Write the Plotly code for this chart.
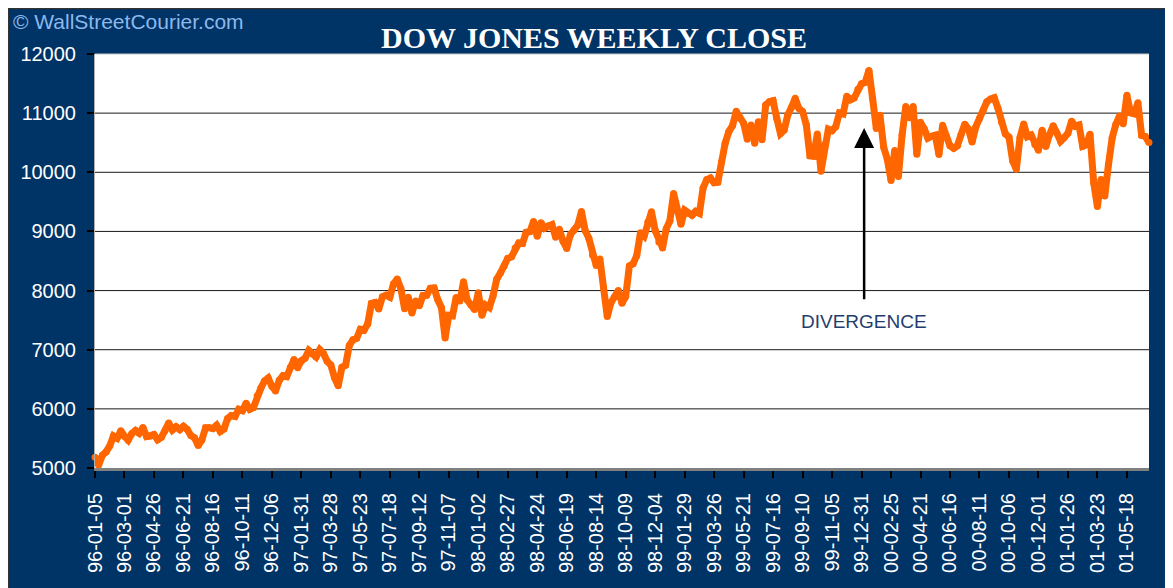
import pandas as pd
import plotly.graph_objects as go

# ---- data -------------------------------------------------------------
start_date = "1996-01-05"
closes_1996 = [5181, 5050, 5216, 5272, 5373, 5541, 5503, 5630, 5536, 5470,
               5584, 5636, 5588, 5683, 5532, 5535, 5567, 5478, 5518, 5636,
               5762, 5643, 5697, 5649, 5705, 5655, 5550, 5510, 5380, 5473,
               5679, 5681, 5666, 5723, 5616, 5659, 5838, 5888, 5872, 5993,
               5970, 6095, 5993, 6022, 6220, 6348, 6472, 6522, 6381, 6304,
               6485, 6560]
closes_1997 = [6545, 6704, 6834, 6697, 6813, 6856, 6988, 6931, 6878, 7000,
               6936, 6804, 6740, 6527, 6391, 6703, 6738, 7071, 7169, 7194,
               7345, 7331, 7436, 7782, 7797, 7688, 7896, 7922, 7890, 8114,
               8194, 8032, 7694, 7888, 7622, 7823, 7742, 7917, 7922, 8039,
               8045, 7847, 7715, 7200, 7581, 7573, 7882, 7823, 8149, 7839,
               7756, 7680]
closes_1998 = [7965, 7581, 7753, 7713, 7907, 8190, 8295, 8413, 8546, 8570,
               8719, 8804, 8797, 8984, 8995, 9168, 8918, 9148, 9055, 9096,
               9114, 8900, 9038, 8835, 8712, 8945, 9025, 9106, 9338, 9017,
               8884, 8599, 8425, 8534, 8052, 7560, 7795, 7896, 8002, 7785,
               7900, 8416, 8452, 8592, 8976, 8920, 9160, 9333, 9016, 8822,
               8720, 9044, 9181]
closes_1999 = [9643, 9340, 9120, 9358, 9304, 9274, 9340, 9307, 9736, 9876,
               9903, 9822, 9832, 10173, 10493, 10689, 10789, 11031, 10913, 10829,
               10560, 10800, 10490, 10855, 10552, 11139, 11193, 11209, 10911, 10655,
               10714, 10974, 11100, 11250, 11079, 11029, 10803, 10279, 10273, 10649,
               10019, 10470, 10729, 10704, 10770, 11004, 10988, 11286, 11225, 11257,
               11405, 11497]
closes_2000 = [11522, 11723, 11251, 10739, 10964, 10425, 10219, 9862, 10367, 9929,
               10630, 11113, 10922, 11111, 10306, 10844, 10734, 10578, 10610, 10627,
               10300, 10794, 10615, 10449, 10405, 10448, 10636, 10812, 10733, 10512,
               10767, 10908, 11046, 11193, 11238, 11260, 11087, 10847, 10651, 10596,
               10193, 10050, 10590, 10817, 10602, 10630, 10470, 10373, 10712, 10434,
               10635, 10787]
closes_2001 = [10662, 10525, 10587, 10659, 10865, 10781, 10799, 10441, 10466, 10644,
               9823, 9420, 9879, 9600, 10127, 10579, 10810, 10951, 10822, 11301,
               11005, 10990, 11175, 10624, 10605, 10502]

y_ticks = [5000, 6000, 7000, 8000, 9000, 10000, 11000, 12000]
y_tick_labels = ["5000", "6000", "7000", "8000", "9000", "10000", "11000", "12000"]
label_every = 8

title_text = "DOW JONES WEEKLY CLOSE"
watermark_text = "\u00a9 WallStreetCourier.com"
note_text = "DIVERGENCE"
note_week = "99-12-31"
arrow_tip_value = 10750
arrow_tail_value = 7830
note_value = 7480

# ---- build ------------------------------------------------------------
closes = closes_1996 + closes_1997 + closes_1998 + closes_1999 + closes_2000 + closes_2001
weeks = pd.date_range(start_date, periods=len(closes), freq="7D").strftime("%y-%m-%d").tolist()
tick_weeks = weeks[::label_every]

NAVY = "#003366"
ORANGE = "#FF6600"

fig = go.Figure()
fig.add_trace(go.Scatter(
    x=weeks, y=closes, mode="lines+markers",
    line=dict(color=ORANGE, width=7),
    marker=dict(color=ORANGE, size=7),
    cliponaxis=False, hoverinfo="x+y", showlegend=False,
))

note_idx = weeks.index(note_week) + 0.7

# page offset of the figure (browser body margin)
OFF = 8
W, H = 1173 - OFF, 588 - OFF
L, R, T, B = 95 - OFF, 24, 54 - OFF, 120
pw, ph = W - L - R, H - T - B
def px(x_page):
    return (x_page - OFF - L) / pw
def py(y_page):
    return (H - B - (y_page - OFF)) / ph

shapes = []
for v in y_ticks:
    if y_ticks[0] < v < y_ticks[-1]:
        shapes.append(dict(type="line", xref="paper", yref="y", x0=0, x1=1, y0=v, y1=v,
                           line=dict(color="#1a1a1a", width=1), layer="below"))
# thin light border on top of plot area
shapes.append(dict(type="line", xref="paper", yref="paper", x0=0, x1=1, y0=1, y1=1,
                   line=dict(color="#c8c8c8", width=1)))
# thin dark frame at top/left edge of the chart
shapes.append(dict(type="line", xref="paper", yref="paper", x0=px(OFF), x1=px(1180), y0=py(OFF + 0.5), y1=py(OFF + 0.5),
                   line=dict(color="#333333", width=1.5)))
shapes.append(dict(type="line", xref="paper", yref="paper", x0=px(OFF + 0.5), x1=px(OFF + 0.5), y0=py(600), y1=py(OFF),
                   line=dict(color="#333333", width=1.5)))

annotations = [
    dict(text=title_text, xref="paper", yref="paper", x=px(594), y=py(37),
         xanchor="center", yanchor="middle", showarrow=False,
         font=dict(family="Liberation Serif", size=30, color="white", weight="bold")),
    dict(text=watermark_text, xref="paper", yref="paper", x=px(11), y=py(21),
         xanchor="left", yanchor="middle", showarrow=False,
         font=dict(family="Liberation Sans", size=21, color="#8DB8EC")),
    dict(text="", x=note_idx, y=arrow_tip_value, ax=note_idx, ay=arrow_tail_value,
         xref="x", yref="y", axref="x", ayref="y", showarrow=True,
         arrowhead=2, arrowsize=1.6, arrowwidth=2.5, arrowcolor="black"),
    dict(text=note_text, x=note_idx, y=note_value, xref="x", yref="y",
         xanchor="center", yanchor="middle", showarrow=False,
         font=dict(family="Liberation Sans", size=19, color="#1F3D6E")),
]

fig.update_layout(
    width=W, height=H,
    margin=dict(l=L, r=R, t=T, b=B, pad=0),
    paper_bgcolor=NAVY, plot_bgcolor="white",
    shapes=shapes, annotations=annotations,
    xaxis=dict(type="category", range=[0, len(weeks) - 1],
               tickmode="array", tickvals=tick_weeks, ticktext=tick_weeks,
               tickangle=-90, ticks="outside", ticklen=7, tickwidth=1.5, tickcolor="black",
               ticklabelstandoff=7,
               tickfont=dict(family="Liberation Sans", size=20, color="white"),
               showgrid=False, showline=True, linecolor="#808080", linewidth=3,
               zeroline=False),
    yaxis=dict(range=[y_ticks[0], y_ticks[-1]], tickmode="array", tickvals=y_ticks,
               ticktext=y_tick_labels,
               ticks="outside", ticklen=7, tickwidth=1.5, tickcolor="black",
               ticklabelstandoff=7,
               tickfont=dict(family="Liberation Sans", size=20, color="white"),
               showgrid=False, showline=True, linecolor="#b0b0b0", linewidth=1,
               zeroline=False),
)

fig.write_html("out.html")
